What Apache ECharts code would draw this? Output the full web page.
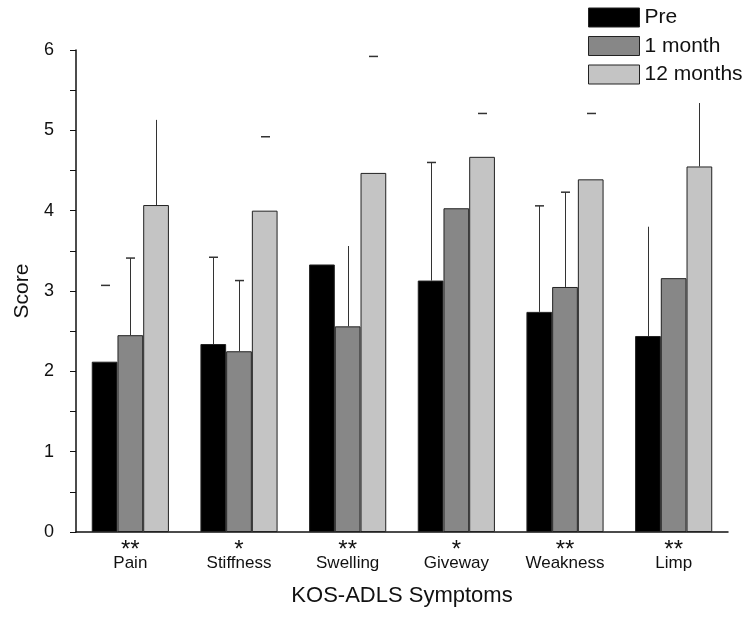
<!DOCTYPE html>
<html>
<head>
<meta charset="utf-8">
<script src="https://cdn.jsdelivr.net/npm/echarts@6/dist/echarts.min.js"></script>
<style>
  html, body { margin: 0; padding: 0; background: #fff; }
  #chart { width: 755px; height: 620px; }
</style>
</head>
<body>
<div id="chart"></div>
<script>
// categories and significance marks
var categories = ['Pain', 'Stiffness', 'Swelling', 'Giveway', 'Weakness', 'Limp'];
var stars = ['**', '*', '**', '*', '**', '**'];
var seriesNames = ['Pre', '1 month', '12 months'];

// mean scores
var preScores = [2.12, 2.34, 3.33, 3.13, 2.74, 2.44];
var oneMonthScores = [2.45, 2.25, 2.56, 4.03, 3.05, 3.16];
var twelveMonthScores = [4.07, 4.00, 4.47, 4.67, 4.39, 4.55];

// error bars as printed: where the whisker line ends, and where a cap is drawn (null = not visible)
var preErrLine = [null, 3.42, null, 4.60, 4.06, 3.80];
var preErrCap = [3.07, 3.42, null, 4.60, 4.06, null];
var oneMonthErrLine = [3.41, 3.13, 3.56, null, 4.23, null];
var oneMonthErrCap = [3.41, 3.13, null, null, 4.23, null];
var twelveMonthErrLine = [5.13, null, null, null, null, 5.34];
var twelveMonthErrCap = [null, 4.92, 5.92, 5.21, 5.21, null];

var yTicks = [0, 1, 2, 3, 4, 5, 6];

var font = '"Liberation Sans", Arial, sans-serif';
var colors = ['#000000', '#878787', '#c4c4c4'];
var catGap = 0.29;

var scores = [preScores, oneMonthScores, twelveMonthScores];
var errLines = [preErrLine, oneMonthErrLine, twelveMonthErrLine];
var errCaps = [preErrCap, oneMonthErrCap, twelveMonthErrCap];

// build error bar items: [category, series, barValue, lineEnd, capEnd]
var errData = [];
for (var s = 0; s < 3; s++) {
  for (var c = 0; c < categories.length; c++) {
    if (errLines[s][c] == null && errCaps[s][c] == null) continue;
    errData.push([c, s, scores[s][c], errLines[s][c] == null ? NaN : errLines[s][c], errCaps[s][c] == null ? NaN : errCaps[s][c]]);
  }
}

var chart = echarts.init(document.getElementById('chart'));

var barSeries = seriesNames.map(function (name, i) {
  return {
    name: name,
    type: 'bar',
    data: scores[i],
    barGap: '0%',
    barCategoryGap: (catGap * 100) + '%',
    itemStyle: { color: colors[i], borderColor: '#222', borderWidth: 1 },
    emphasis: { disabled: true }
  };
});

var errSeries = {
  type: 'custom',
  data: errData,
  z: 5,
  silent: true,
  encode: { x: 0, y: 2 },
  renderItem: function (params, api) {
    var cat = api.value(0);
    var s = api.value(1);
    var bandW = api.size([1, 0])[0];
    var barW = bandW * (1 - catGap) / 3;
    var base = api.coord([cat, api.value(2)]);
    var x = Math.round(base[0] + (s - 1) * barW) + 0.5;
    var children = [];
    var lineEnd = api.value(3);
    var capEnd = api.value(4);
    if (!isNaN(lineEnd)) {
      var p = api.coord([cat, lineEnd]);
      children.push({ type: 'line', shape: { x1: x, y1: base[1], x2: x, y2: p[1] }, style: { stroke: '#333', lineWidth: 1 } });
    }
    if (!isNaN(capEnd)) {
      var q = api.coord([cat, capEnd]);
      children.push({ type: 'line', shape: { x1: x - 4.5, y1: q[1], x2: x + 4.5, y2: q[1] }, style: { stroke: '#333', lineWidth: 1.5 } });
    }
    return { type: 'group', children: children };
  }
};

chart.setOption({
  animation: false,
  backgroundColor: '#fff',
  textStyle: { fontFamily: font },
  legend: {
    data: seriesNames.map(function (n) { return { name: n, icon: 'rect' }; }),
    orient: 'vertical',
    left: 583,
    top: 2,
    itemWidth: 51,
    itemHeight: 19,
    itemGap: 7.5,
    textStyle: { fontSize: 21, color: '#111', fontFamily: font },
    itemStyle: { borderColor: '#222', borderWidth: 1 }
  },
  grid: { left: 76, right: 27, top: 50, bottom: 88, containLabel: false },
  xAxis: {
    type: 'category',
    data: categories,
    name: 'KOS-ADLS Symptoms',
    nameLocation: 'middle',
    nameGap: 53,
    nameTextStyle: { fontSize: 22, color: '#111', fontFamily: font },
    axisLine: { lineStyle: { color: '#111', width: 1.5 } },
    axisTick: { show: false },
    axisLabel: {
      margin: 14,
      interval: 0,
      color: '#111',
      fontSize: 17,
      lineHeight: 19,
      fontFamily: font,
      formatter: function (v, i) { return '{s|' + stars[i] + '}\n' + v; },
      rich: { s: { fontSize: 24, lineHeight: 8, color: '#111' } }
    }
  },
  yAxis: {
    type: 'value',
    min: yTicks[0],
    max: yTicks[yTicks.length - 1],
    interval: 1,
    name: 'Score',
    nameLocation: 'middle',
    nameGap: 43,
    nameTextStyle: { fontSize: 21, color: '#111', fontFamily: font },
    axisLine: { show: true, lineStyle: { color: '#111', width: 1.5 } },
    axisTick: { show: true, inside: false, length: 6, lineStyle: { color: '#111' } },
    minorTick: { show: true, splitNumber: 2, length: 6, lineStyle: { color: '#111' } },
    splitLine: { show: false },
    axisLabel: { color: '#111', fontSize: 18, margin: 22, fontFamily: font }
  },
  series: barSeries.concat([errSeries])
});
</script>
</body>
</html>
